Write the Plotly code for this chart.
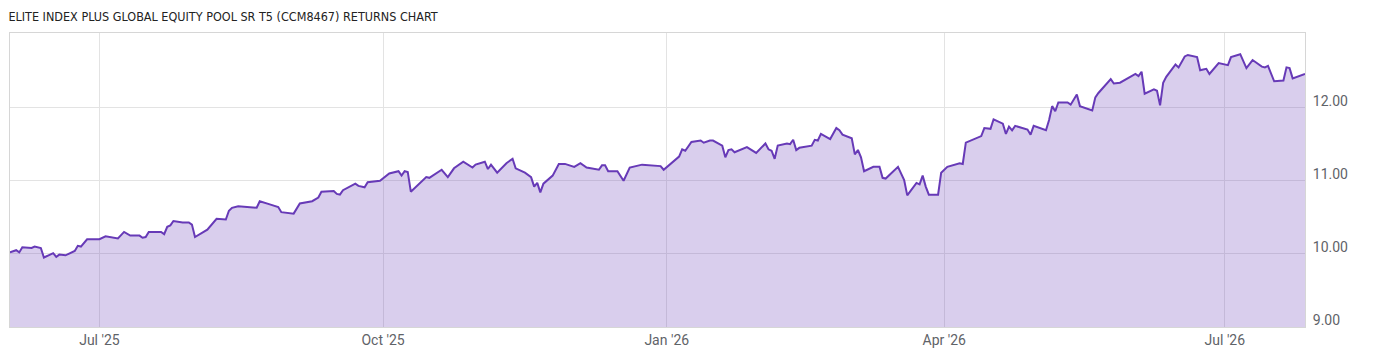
import plotly.graph_objects as go

title_text = "ELITE INDEX PLUS GLOBAL EQUITY POOL SR T5 (CCM8467) RETURNS CHART"

dates = [
    "2025-06-02", "2025-06-03", "2025-06-04", "2025-06-05", "2025-06-06", "2025-06-09", "2025-06-10",
    "2025-06-12", "2025-06-13", "2025-06-16", "2025-06-17", "2025-06-18", "2025-06-20", "2025-06-23",
    "2025-06-24", "2025-06-25", "2025-06-27", "2025-07-01", "2025-07-03", "2025-07-07", "2025-07-09",
    "2025-07-11", "2025-07-14", "2025-07-15", "2025-07-16", "2025-07-17", "2025-07-21", "2025-07-22",
    "2025-07-23", "2025-07-24", "2025-07-25", "2025-07-28", "2025-07-30", "2025-07-31", "2025-08-01",
    "2025-08-05", "2025-08-08", "2025-08-11", "2025-08-12", "2025-08-13", "2025-08-15", "2025-08-21",
    "2025-08-22", "2025-08-25", "2025-08-26", "2025-08-27", "2025-08-28", "2025-08-29", "2025-09-02",
    "2025-09-04", "2025-09-08", "2025-09-10", "2025-09-11", "2025-09-15", "2025-09-16", "2025-09-17",
    "2025-09-18", "2025-09-22", "2025-09-23", "2025-09-25", "2025-09-26", "2025-09-30", "2025-10-02",
    "2025-10-03", "2025-10-06", "2025-10-07", "2025-10-08", "2025-10-09", "2025-10-10", "2025-10-15",
    "2025-10-16", "2025-10-20", "2025-10-22", "2025-10-24", "2025-10-27", "2025-10-30", "2025-10-31",
    "2025-11-03", "2025-11-04", "2025-11-05", "2025-11-07", "2025-11-10", "2025-11-12", "2025-11-13",
    "2025-11-16", "2025-11-18", "2025-11-19", "2025-11-20", "2025-11-21", "2025-11-22", "2025-11-25",
    "2025-11-27", "2025-11-29", "2025-12-02", "2025-12-04", "2025-12-06", "2025-12-10", "2025-12-11",
    "2025-12-12", "2025-12-13", "2025-12-16", "2025-12-18", "2025-12-20", "2025-12-24", "2025-12-30",
    "2025-12-31", "2026-01-05", "2026-01-06", "2026-01-07", "2026-01-09", "2026-01-12", "2026-01-13",
    "2026-01-15", "2026-01-16", "2026-01-19", "2026-01-20", "2026-01-21", "2026-01-22", "2026-01-23",
    "2026-01-27", "2026-01-30", "2026-02-02", "2026-02-03", "2026-02-04", "2026-02-05", "2026-02-06",
    "2026-02-09", "2026-02-10", "2026-02-11", "2026-02-12", "2026-02-13", "2026-02-17", "2026-02-18",
    "2026-02-19", "2026-02-20", "2026-02-23", "2026-02-25", "2026-02-26", "2026-02-27", "2026-03-02",
    "2026-03-03", "2026-03-04", "2026-03-05", "2026-03-06", "2026-03-09", "2026-03-11", "2026-03-12",
    "2026-03-13", "2026-03-17", "2026-03-18", "2026-03-19", "2026-03-20", "2026-03-23", "2026-03-24",
    "2026-03-25", "2026-03-26", "2026-03-27", "2026-03-30", "2026-03-31", "2026-04-02", "2026-04-06",
    "2026-04-07", "2026-04-08", "2026-04-13", "2026-04-14", "2026-04-16", "2026-04-17", "2026-04-20",
    "2026-04-21", "2026-04-22", "2026-04-23", "2026-04-24", "2026-04-28", "2026-04-29", "2026-04-30",
    "2026-05-04", "2026-05-05", "2026-05-06", "2026-05-07", "2026-05-08", "2026-05-11", "2026-05-12",
    "2026-05-14", "2026-05-15", "2026-05-19", "2026-05-20", "2026-05-21", "2026-05-25", "2026-05-26",
    "2026-05-28", "2026-06-02", "2026-06-03", "2026-06-04", "2026-06-05", "2026-06-08", "2026-06-09",
    "2026-06-10", "2026-06-11", "2026-06-12", "2026-06-15", "2026-06-16", "2026-06-18", "2026-06-19",
    "2026-06-22", "2026-06-23", "2026-06-24", "2026-06-25", "2026-06-26", "2026-06-29", "2026-07-02",
    "2026-07-03", "2026-07-06", "2026-07-08", "2026-07-10", "2026-07-13", "2026-07-14", "2026-07-15",
    "2026-07-17", "2026-07-20", "2026-07-21", "2026-07-22", "2026-07-23", "2026-07-27",
]

values = [
    10.02, 10.04, 10.05, 10.02, 10.09, 10.08, 10.10,
    10.08, 9.95, 10.01, 9.96, 9.99, 9.98, 10.04,
    10.11, 10.10, 10.20, 10.20, 10.24, 10.21, 10.30,
    10.25, 10.25, 10.22, 10.23, 10.30, 10.30, 10.27,
    10.37, 10.39, 10.45, 10.43, 10.43, 10.40, 10.23,
    10.33, 10.48, 10.47, 10.59, 10.63, 10.65, 10.63,
    10.72, 10.68, 10.67, 10.66, 10.64, 10.57, 10.55,
    10.69, 10.72, 10.77, 10.85, 10.86, 10.82, 10.81,
    10.87, 10.96, 10.93, 10.91, 10.98, 11.00, 11.06,
    11.10, 11.13, 11.07, 11.13, 11.12, 10.85, 11.05,
    11.04, 11.15, 11.05, 11.17, 11.26, 11.18, 11.22,
    11.26, 11.16, 11.22, 11.11, 11.24, 11.30, 11.17,
    11.11, 11.05, 10.92, 10.97, 10.84, 10.96, 11.07,
    11.23, 11.23, 11.19, 11.24, 11.18, 11.15, 11.21,
    11.21, 11.13, 11.13, 11.00, 11.18, 11.22, 11.20,
    11.15, 11.33, 11.43, 11.41, 11.53, 11.55, 11.52,
    11.55, 11.55, 11.48, 11.32, 11.42, 11.43, 11.39,
    11.46, 11.38, 11.51, 11.43, 11.41, 11.30, 11.48,
    11.51, 11.50, 11.56, 11.42, 11.45, 11.48, 11.56,
    11.55, 11.64, 11.57, 11.72, 11.69, 11.63, 11.58,
    11.36, 11.42, 11.32, 11.13, 11.19, 11.19, 11.04,
    11.03, 11.19, 11.10, 11.01, 10.80, 10.97, 10.95,
    11.07, 10.92, 10.81, 10.81, 11.11, 11.19, 11.24,
    11.23, 11.52, 11.61, 11.72, 11.71, 11.84, 11.78,
    11.64, 11.74, 11.69, 11.75, 11.70, 11.63, 11.75,
    11.69, 11.83, 12.02, 11.95, 12.07, 12.07, 12.04,
    12.18, 12.02, 11.96, 12.14, 12.20, 12.39, 12.33,
    12.34, 12.46, 12.43, 12.49, 12.19, 12.25, 12.23,
    12.03, 12.34, 12.42, 12.59, 12.55, 12.70, 12.72,
    12.69, 12.51, 12.52, 12.53, 12.46, 12.61, 12.58,
    12.69, 12.73, 12.54, 12.65, 12.56, 12.55, 12.57,
    12.36, 12.37, 12.55, 12.54, 12.40, 12.46,
]

y_ticks = [9, 10, 11, 12]
y_tick_labels = ["9.00", "10.00", "11.00", "12.00"]
x_ticks = ["2025-07-01", "2025-10-01", "2026-01-01", "2026-04-01", "2026-07-01"]
x_tick_labels = ["Jul '25", "Oct '25", "Jan '26", "Apr '26", "Jul '26"]

fig = go.Figure()
fig.add_trace(go.Scatter(
    x=dates, y=values, mode="lines",
    line=dict(color="#673ab7", width=2),
    fill="tozeroy", fillcolor="rgba(103,58,183,0.25)",
    hoverinfo="x+y",
))

fig.update_layout(
    width=1400, height=357,
    margin=dict(l=10, r=95, t=33, b=30),
    paper_bgcolor="white", plot_bgcolor="white",
    showlegend=False,
    font=dict(family="Roboto, sans-serif", size=14, color="#5f6368"),
    title=dict(text=title_text, x=0.006, xanchor="left", y=0.953, yanchor="middle",
               font=dict(family="'DejaVu Sans Condensed', Roboto, sans-serif",
                         size=12.5, color="#222222")),
)
fig.update_xaxes(
    type="date", range=[dates[0], dates[-1]],
    tickvals=x_ticks, ticktext=x_tick_labels,
    showgrid=True, gridcolor="#e3e3e3", gridwidth=1,
    showline=True, linecolor="#d6d6d6", mirror=True,
    ticks="", tickfont=dict(size=14, color="#5f6368"),
    zeroline=False,
)
fig.update_yaxes(
    range=[9, 13.02], side="right",
    tickvals=y_ticks, ticktext=y_tick_labels,
    showgrid=True, gridcolor="#e3e3e3", gridwidth=1,
    showline=True, linecolor="#d6d6d6", mirror=True,
    ticks="", ticklabelstandoff=4, ticklabelshift=-7,
    tickfont=dict(size=14, color="#5f6368"),
    zeroline=False,
)

fig.write_html("out.html")
